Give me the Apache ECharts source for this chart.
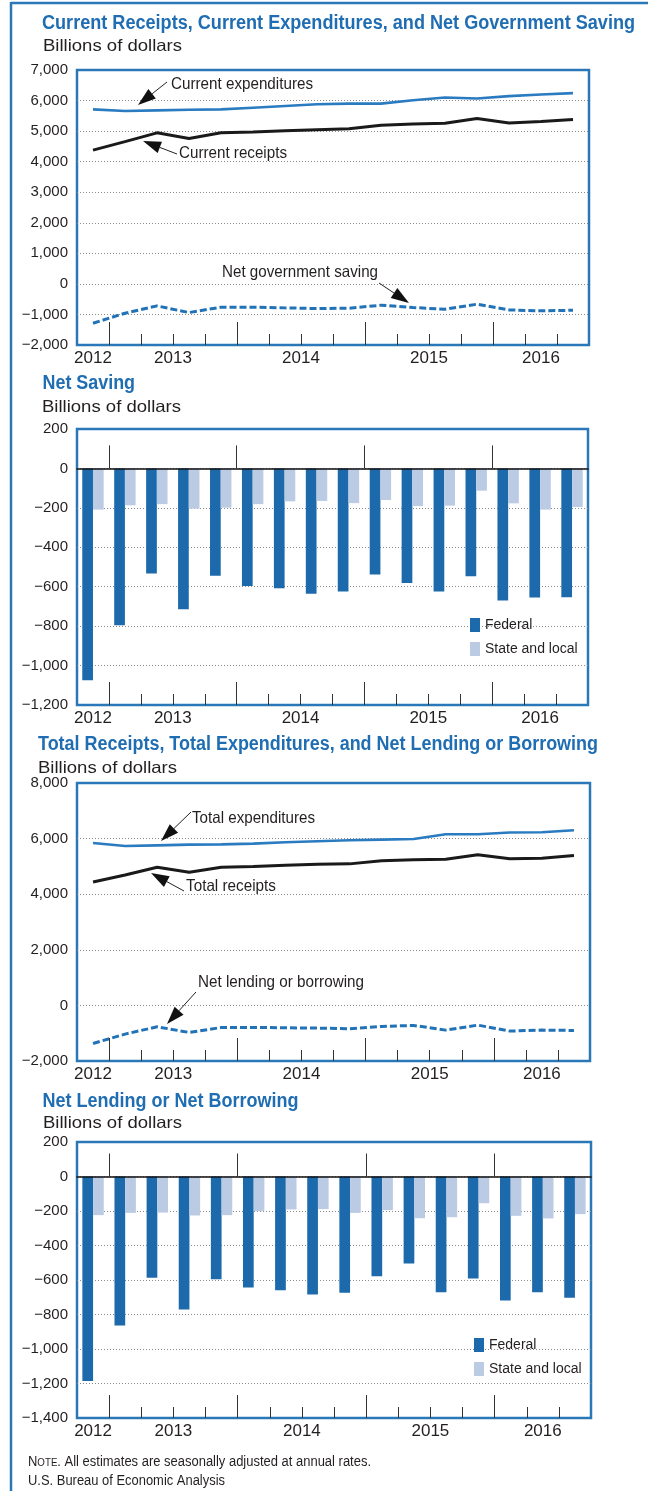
<!DOCTYPE html>
<html>
<head>
<meta charset="utf-8">
<script src="https://cdn.jsdelivr.net/npm/echarts@6.0.0/dist/echarts.min.js"></script>
<style>
  html, body { margin: 0; padding: 0; background: #ffffff; }
  #chart { width: 648px; height: 1491px; }
</style>
</head>
<body>
<div id="chart"></div>
<script>
// ---------------- DATA ----------------
const quarters = ['2012 Q4','2013 Q1','2013 Q2','2013 Q3','2013 Q4','2014 Q1','2014 Q2','2014 Q3','2014 Q4','2015 Q1','2015 Q2','2015 Q3','2015 Q4','2016 Q1','2016 Q2','2016 Q3'];

// Panel 1 (billions of dollars)
const currentExpenditures = [5711, 5656, 5678, 5700, 5711, 5767, 5822, 5878, 5900, 5900, 6011, 6100, 6067, 6144, 6200, 6244];
const currentReceipts     = [4378, 4656, 4944, 4756, 4944, 4967, 5011, 5044, 5078, 5189, 5233, 5256, 5411, 5267, 5311, 5378];
const netGovernmentSaving = [-1287, -960, -720, -938, -763, -763, -785, -807, -796, -698, -774, -829, -665, -851, -883, -862];

// Panel 2
const netSavingFederal    = [-1075, -795, -533, -714, -545, -596, -608, -636, -624, -538, -581, -624, -547, -670, -655, -653];
const netSavingStateLocal = [-209, -187, -181, -204, -199, -181, -167, -165, -176, -160, -191, -189, -113, -177, -209, -196];

// Panel 3
const totalExpenditures   = [5842, 5733, 5758, 5782, 5794, 5818, 5867, 5903, 5939, 5964, 5988, 6158, 6158, 6218, 6230, 6303];
const totalReceipts       = [4436, 4691, 4970, 4788, 4970, 4994, 5042, 5079, 5091, 5200, 5236, 5261, 5418, 5273, 5297, 5394];
const netLendingBorrowing = [-1369, -1033, -769, -973, -793, -793, -805, -817, -841, -757, -721, -889, -709, -925, -889, -901];

// Panel 4
const lendingFederal      = [-1186, -864, -587, -771, -595, -643, -659, -684, -674, -578, -504, -671, -591, -719, -671, -703];
const lendingStateLocal   = [-224, -211, -209, -226, -224, -201, -191, -189, -211, -195, -242, -236, -155, -228, -243, -218];

// Y axis tick ranges [min, max, step]
const yTicksPanel1 = [-2000, 7000, 1000];
const yTicksPanel2 = [-1200, 200, 200];
const yTicksPanel3 = [-2000, 8000, 2000];
const yTicksPanel4 = [-1400, 200, 200];

const seriesNames = ['Federal', 'State and local'];

// ---------------- DERIVED AXIS POSITIONS (from quarters) ----------------
const yearOf = quarters.map(q => q.slice(0, 4));
const yearLabels = [...new Set(yearOf)];
const yearLabelPos = yearLabels.map(y => {
  const first = yearOf.indexOf(y), last = yearOf.lastIndexOf(y);
  return (first + last + 1) / 2;
});
const longTicks = [], shortTicks = [];
for (let i = 1; i < quarters.length; i++) {
  if (quarters[i].endsWith('Q1')) longTicks.push(i); else shortTicks.push(i);
}

// ---------------- STYLE ----------------
const FONT = '"Liberation Sans", Arial, Helvetica, sans-serif';
const BLUE_BORDER = '#2b78b8';
const TITLE_BLUE = '#1f6db2';
const FED = '#1c69ab';
const STATE = '#bccbe4';
const LINE_BLUE = '#2a7bc0';
const TEXT = '#231f20';

const canvas = document.createElement('canvas');
const ctx = canvas.getContext('2d');
function measure(text, size, weight) {
  ctx.font = (weight || 'normal') + ' ' + size + 'px ' + FONT;
  return ctx.measureText(text).width;
}
function txt(text, x, y, w, size, weight, color) {
  const sx = w ? w / measure(text, size, weight) : 1;
  return {
    type: 'text', x: x, y: y, scaleX: sx, silent: true, z: 100,
    style: {
      text: text, fill: color || TEXT,
      font: (weight || 'normal') + ' ' + size + 'px ' + FONT,
      textAlign: 'left', textVerticalAlign: 'middle', align: 'left', verticalAlign: 'middle'
    }
  };
}
function arrow(x1, y1, x2, y2) {
  const L = 18, H = 6;
  const dx = x2 - x1, dy = y2 - y1, d = Math.hypot(dx, dy);
  const ux = dx / d, uy = dy / d;
  const bx = x2 - ux * L, by = y2 - uy * L;
  return [
    { type: 'line', silent: true, z: 100, shape: { x1: x1, y1: y1, x2: bx, y2: by }, style: { stroke: '#222', lineWidth: 1 } },
    { type: 'polygon', silent: true, z: 100, shape: { points: [[x2, y2], [bx - uy * H, by + ux * H], [bx + uy * H, by - ux * H]] }, style: { fill: '#111' } }
  ];
}

// ---------------- GRIDS / AXES ----------------
const grids = [
  { left: 77, right: 59, top: 70, height: 275 },
  { left: 77, right: 60, top: 429, height: 276 },
  { left: 77, right: 58, top: 783, height: 278 },
  { left: 77, right: 57, top: 1142, height: 276 }
];
const yTicks = [yTicksPanel1, yTicksPanel2, yTicksPanel3, yTicksPanel4];
const isBar = [false, true, false, true];

function fmt(v) {
  return (v < 0 ? '\u2212' : '') + Math.abs(v).toLocaleString('en-US');
}

const xAxes = [], yAxes = [], catIndex = [];
grids.forEach((g, gi) => {
  catIndex.push(xAxes.length);
  xAxes.push({
    type: 'category', gridIndex: gi, data: quarters, position: 'bottom', boundaryGap: true,
    axisLine: { show: false, onZero: false }, axisTick: { show: false }, axisLabel: { show: false }, splitLine: { show: false }
  });
  const tickAxis = (vals, len, onZero, lineShow) => ({
    type: 'value', gridIndex: gi, min: 0, max: quarters.length, position: 'bottom', z: 5,
    axisLine: { show: !!lineShow, onZero: !!onZero, lineStyle: { color: '#111', width: 1.6 } },
    axisTick: { show: true, inside: true, length: len, customValues: vals, lineStyle: { color: '#333', width: 1 } },
    axisLabel: { show: false }, splitLine: { show: false }
  });
  xAxes.push(tickAxis(longTicks, 23, false, false));
  xAxes.push(tickAxis(shortTicks, 11, false, false));
  if (isBar[gi]) {
    xAxes.push(tickAxis(longTicks, 23, true, true));
    xAxes.push(tickAxis(shortTicks, 11, true, false));
  }
  xAxes.push({
    type: 'value', gridIndex: gi, min: 0, max: quarters.length, position: 'bottom',
    axisLine: { show: false, onZero: false }, axisTick: { show: false }, splitLine: { show: false },
    axisLabel: {
      show: true, customValues: yearLabelPos, margin: 5, fontSize: 17, fontFamily: FONT, color: TEXT,
      formatter: v => yearLabels[yearLabelPos.indexOf(v)] || ''
    }
  });
  const yt = yTicks[gi];
  yAxes.push({
    type: 'value', gridIndex: gi, min: yt[0], max: yt[1], interval: yt[2],
    axisLine: { show: false }, axisTick: { show: false },
    axisLabel: { formatter: fmt, fontSize: 15, fontFamily: FONT, color: TEXT, margin: 9 },
    splitLine: { show: true, showMinLine: false, showMaxLine: false, lineStyle: { type: [1, 2], color: '#8a8a8a', width: 1 } }
  });
});

// ---------------- SERIES ----------------
function lineSeries(name, data, gi, color, width, dash) {
  return {
    type: 'line', name: name, data: data, xAxisIndex: catIndex[gi], yAxisIndex: gi,
    showSymbol: false, symbol: 'none', animation: false, z: 3,
    lineStyle: { color: color, width: width, type: dash || 'solid' }
  };
}
function barSeries(name, data, gi, color) {
  return {
    type: 'bar', name: name, data: data, xAxisIndex: catIndex[gi], yAxisIndex: gi,
    barWidth: 10.7, barGap: '0%', animation: false, itemStyle: { color: color }
  };
}
const series = [
  lineSeries('Current expenditures', currentExpenditures, 0, LINE_BLUE, 2.6),
  lineSeries('Current receipts', currentReceipts, 0, '#1a1a1a', 3),
  lineSeries('Net government saving', netGovernmentSaving, 0, '#2272b8', 3, [7, 3]),
  barSeries(seriesNames[0], netSavingFederal, 1, FED),
  barSeries(seriesNames[1], netSavingStateLocal, 1, STATE),
  lineSeries('Total expenditures', totalExpenditures, 2, LINE_BLUE, 2.6),
  lineSeries('Total receipts', totalReceipts, 2, '#1a1a1a', 3),
  lineSeries('Net lending or borrowing', netLendingBorrowing, 2, '#2272b8', 3, [7, 3]),
  barSeries(seriesNames[0], lendingFederal, 3, FED),
  barSeries(seriesNames[1], lendingStateLocal, 3, STATE)
];

// ---------------- TEXT / ANNOTATIONS ----------------
let gfx = [
  { type: 'line', silent: true, shape: { x1: 11, y1: 3, x2: 648, y2: 3 }, style: { stroke: BLUE_BORDER, lineWidth: 2.5 } },
  { type: 'line', silent: true, shape: { x1: 11, y1: 2, x2: 11, y2: 1491 }, style: { stroke: BLUE_BORDER, lineWidth: 2.5 } },

  txt('Current Receipts, Current Expenditures, and Net Government Saving', 42, 24, 593, 19.5, 'bold', TITLE_BLUE),
  txt('Billions of dollars', 43, 46, 139, 16.5, 'normal', TEXT),
  txt('Net Saving', 42.5, 384, 92.5, 19.5, 'bold', TITLE_BLUE),
  txt('Billions of dollars', 42, 407, 139, 16.5, 'normal', TEXT),
  txt('Total Receipts, Total Expenditures, and Net Lending or Borrowing', 38, 745, 560, 19.5, 'bold', TITLE_BLUE),
  txt('Billions of dollars', 38, 768, 139, 16.5, 'normal', TEXT),
  txt('Net Lending or Net Borrowing', 42.5, 1102, 256, 19.5, 'bold', TITLE_BLUE),
  txt('Billions of dollars', 43, 1123, 139, 16.5, 'normal', TEXT),

  txt('Current expenditures', 171, 84, 142, 16.5, 'normal', TEXT),
  txt('Current receipts', 179, 153, 108, 16.5, 'normal', TEXT),
  txt('Net government saving', 222, 272, 156, 16.5, 'normal', TEXT),
  txt('Total expenditures', 192, 818, 123, 16.5, 'normal', TEXT),
  txt('Total receipts', 186, 886, 90, 16.5, 'normal', TEXT),
  txt('Net lending or borrowing', 198, 982, 166, 16.5, 'normal', TEXT),

  txt('U.S. Bureau of Economic Analysis', 28, 1481, 197, 14, 'normal', TEXT)
];
// Note with small caps
(function () {
  const rest = '. All estimates are seasonally adjusted at annual rates.';
  const w = measure('N', 14) + measure('OTE', 10.5) + measure(rest, 14);
  gfx.push({
    type: 'text', x: 28, y: 1462, scaleX: 343 / w, silent: true, z: 100,
    style: {
      text: '{a|N}{b|OTE}{a|' + rest + '}',
      rich: {
        a: { fontSize: 14, fontFamily: FONT, fill: TEXT, color: TEXT },
        b: { fontSize: 10.5, fontFamily: FONT, fill: TEXT, color: TEXT, padding: [2, 0, 0, 0] }
      },
      font: '14px ' + FONT, fill: TEXT,
      textAlign: 'left', textVerticalAlign: 'middle', align: 'left', verticalAlign: 'middle'
    }
  });
})();
gfx = gfx.concat(
  arrow(167, 82, 138, 105),
  arrow(177, 154, 143, 141),
  arrow(379, 283, 409, 303),
  arrow(191, 812, 161, 841),
  arrow(184, 891, 151, 873),
  arrow(196, 992, 167, 1024)
);

// ---------------- CHART ----------------
const chart = echarts.init(document.getElementById('chart'), null, { renderer: 'canvas' });
chart.setOption({
  animation: false,
  backgroundColor: '#ffffff',
  textStyle: { fontFamily: FONT },
  grid: grids.map(g => Object.assign({ show: true, borderColor: BLUE_BORDER, borderWidth: 2.5, backgroundColor: 'transparent', containLabel: false }, g)),
  xAxis: xAxes,
  yAxis: yAxes,
  legend: [
    { data: seriesNames, orient: 'vertical', left: 470, top: 618, padding: 0, itemWidth: 10, itemHeight: 14, itemGap: 10, icon: 'rect',
      selectedMode: false, textStyle: { fontSize: 14, fontFamily: FONT, color: TEXT } },
    { data: seriesNames, orient: 'vertical', left: 474, top: 1338, padding: 0, itemWidth: 10, itemHeight: 14, itemGap: 10, icon: 'rect',
      selectedMode: false, textStyle: { fontSize: 14, fontFamily: FONT, color: TEXT } }
  ],
  series: series,
  graphic: gfx
});
</script>
</body>
</html>
